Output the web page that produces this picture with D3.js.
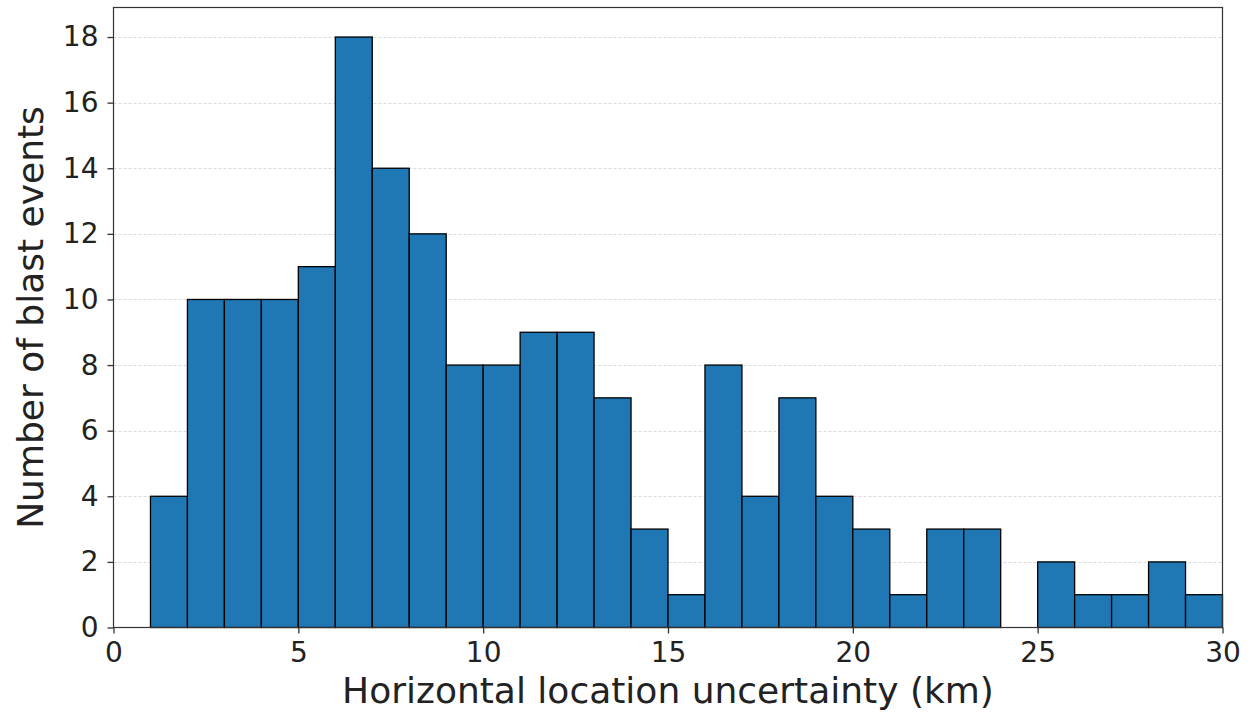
<!DOCTYPE html>
<html><head><meta charset="utf-8">
<script src="https://cdn.jsdelivr.net/npm/d3@7"></script>
<style>body{margin:0;background:#fff;font-family:"DejaVu Sans",sans-serif;}</style>
</head><body>
<svg id="chart" width="1252" height="717"></svg>
<script>
const binStarts = [1,2,3,4,5,6,7,8,9,10,11,12,13,14,15,16,17,18,19,20,21,22,23,24,25,26,27,28,29];
const counts    = [4,10,10,10,11,18,14,12,8,8,9,9,7,3,1,8,4,7,4,3,1,3,3,0,2,1,1,2,1];
const binWidth = 1;
const xTicks = [0,5,10,15,20,25,30];
const yTicks = [0,2,4,6,8,10,12,14,16,18];
const xLabel = "Horizontal location uncertainty (km)";
const yLabel = "Number of blast events";

const svg = d3.select("#chart");
const m = {left:113.5, right:1222.5, top:7.5, bottom:627.5};
const x = d3.scaleLinear().domain([0,30]).range([m.left, m.right]);
const y = d3.scaleLinear().domain([0,18.9]).range([m.bottom, m.top]);

// grid
svg.append("g").selectAll("line").data(yTicks.filter(d=>d>0)).join("line")
  .attr("x1", m.left).attr("x2", m.right)
  .attr("y1", d=>Math.round(y(d))+0.5).attr("y2", d=>Math.round(y(d))+0.5)
  .attr("stroke","#d0d0d0").attr("stroke-width",0.8).attr("stroke-dasharray","3,2");

// bars
svg.append("g").selectAll("rect").data(binStarts.map((s,i)=>({s, c:counts[i]})).filter(d=>d.c>0)).join("rect")
  .attr("x", d=>x(d.s)).attr("width", d=>x(d.s+binWidth)-x(d.s))
  .attr("y", d=>y(d.c)).attr("height", d=>y(0)-y(d.c))
  .attr("fill","#1f77b4").attr("stroke","#000").attr("stroke-width",1.3);

// frame
svg.append("rect").attr("x",m.left).attr("y",m.top).attr("width",m.right-m.left).attr("height",m.bottom-m.top)
  .attr("fill","none").attr("stroke","#333").attr("stroke-width",1.2);

const fs = 28;
const xAxis = svg.append("g").attr("transform",`translate(0,${m.bottom})`)
  .call(d3.axisBottom(x).tickValues(xTicks).tickSize(6).tickPadding(9).tickFormat(d3.format("d")));
const yAxis = svg.append("g").attr("transform",`translate(${m.left},0)`)
  .call(d3.axisLeft(y).tickValues(yTicks).tickSize(6).tickPadding(9).tickFormat(d3.format("d")));
[xAxis,yAxis].forEach(a=>{
  a.select(".domain").remove();
  a.selectAll(".tick line").attr("stroke","#333").attr("stroke-width",1.3);
  a.selectAll(".tick text").attr("font-family","DejaVu Sans").attr("font-size",fs).attr("fill","#222");
});

svg.append("text").attr("x",(m.left+m.right)/2).attr("y",703)
  .attr("text-anchor","middle").attr("font-size",36).attr("fill","#222").text(xLabel);
svg.append("text").attr("transform",`translate(43,${(m.top+m.bottom)/2}) rotate(-90)`)
  .attr("text-anchor","middle").attr("font-size",36).attr("fill","#222").text(yLabel);
</script>
</body></html>
